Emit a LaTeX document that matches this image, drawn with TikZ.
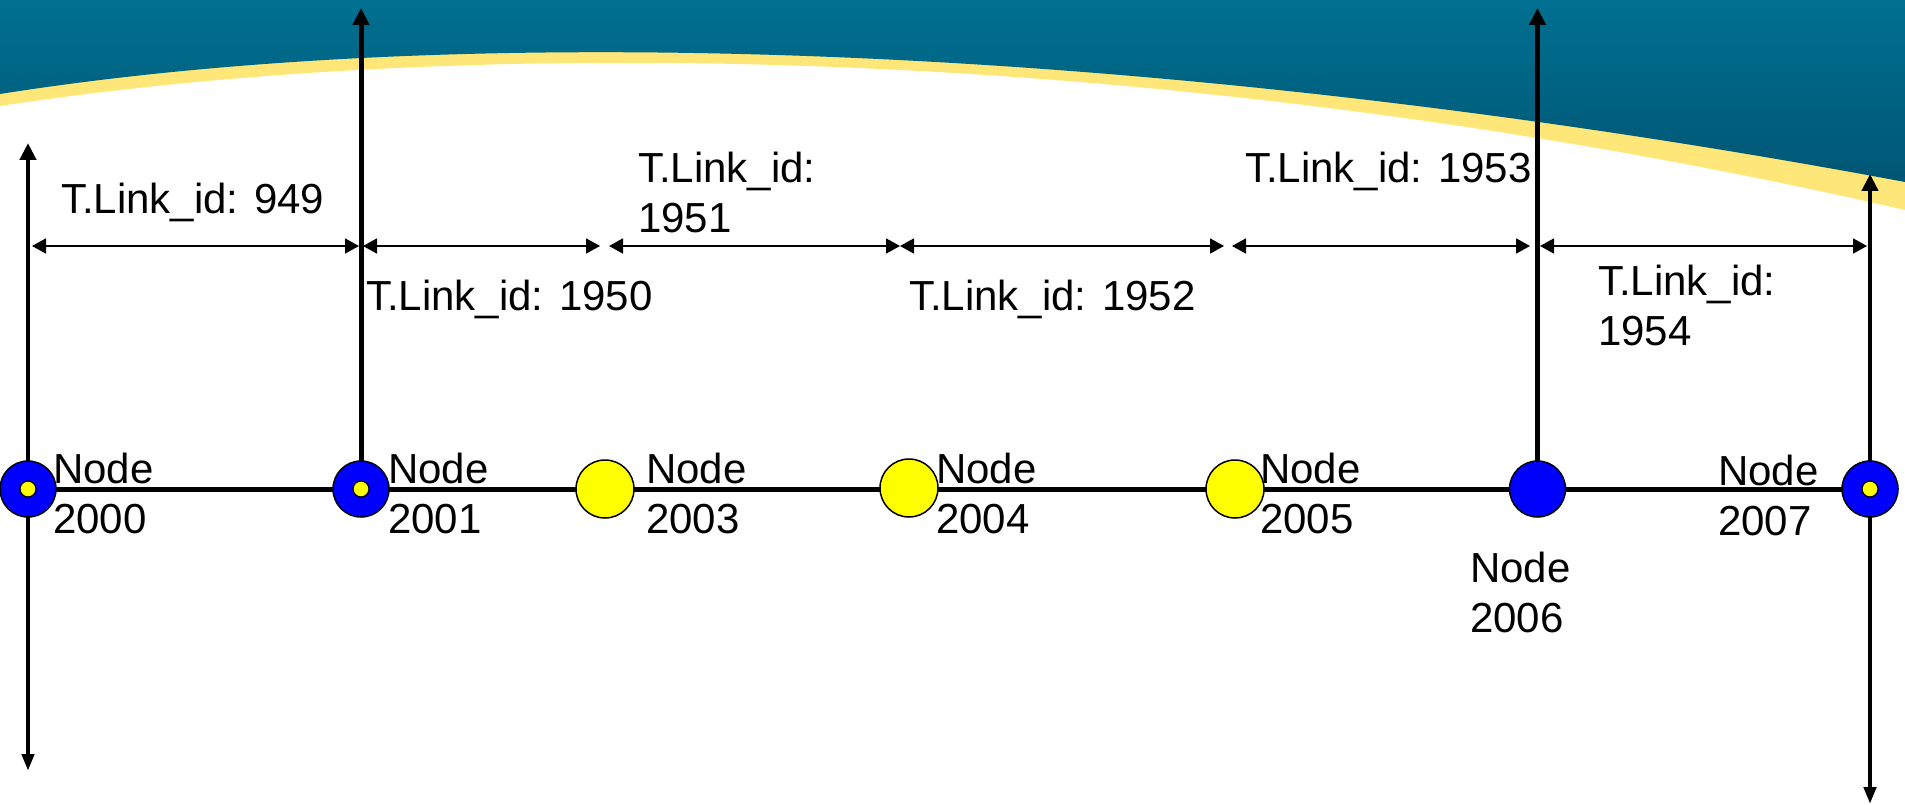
\documentclass[tikz,border=0pt]{standalone}
\usepackage{fontspec}
\setmainfont{Liberation Sans}
\usetikzlibrary{arrows.meta,backgrounds}

\definecolor{tealtop}{RGB}{0,112,145}
\definecolor{tealbot}{RGB}{0,86,116}
\definecolor{bandyellow}{RGB}{255,230,120}
\definecolor{hubblue}{RGB}{0,0,255}
\definecolor{stopyellow}{RGB}{255,255,0}

\tikzset{
  lbl/.style={anchor=north west, inner sep=0pt, align=left,
              font=\fontsize{42}{50}\selectfont},
  hub/.style={circle, draw=black, line width=1.5pt, fill=hubblue,
              minimum size=56pt, inner sep=0pt},
  core/.style={circle, draw=black, line width=1.2pt, fill=stopyellow,
               minimum size=16pt, inner sep=0pt},
  yellowstop/.style={circle, draw=black, line width=1.5pt, fill=stopyellow,
                     minimum size=58pt, inner sep=0pt},
  trackline/.style={line width=5pt},
  uptip/.style={line width=5pt, -{Triangle[length=17pt,width=16pt]}},
  bothtip/.style={line width=4.5pt,
                  {Triangle[length=17pt,width=12pt]}-{Triangle[length=17pt,width=16pt]}},
  spanarrow/.style={line width=1.8pt,
                    {Triangle[length=14pt,width=15pt]}-{Triangle[length=14pt,width=15pt]}},
}

\begin{document}
\begin{tikzpicture}[x=1pt,y=-1pt]
\useasboundingbox (0,0) rectangle (1905,805);

% network nodes along the track
\node[hub] (n2000) at (28,489) {};
\node[core] at (n2000) {};
\node[hub] (n2001) at (361,489) {};
\node[core] at (n2001) {};
\node[yellowstop] (n2003) at (605,489) {};
\node[yellowstop] (n2004) at (909,488) {};
\node[yellowstop] (n2005) at (1235,489) {};
\node[hub] (n2006) at (1537.5,489) {};
\node[hub] (n2007) at (1870,489) {};
\node[core] at (n2007) {};

% free ends of the vertical arrows
\coordinate (top2000) at (28,143);
\coordinate (bot2000) at (28,771);
\coordinate (top2001) at (361,8);
\coordinate (top2006) at (1537.5,8);
\coordinate (top2007) at (1870,174);
\coordinate (bot2007) at (1870,804);

% ends of the link span arrows
\coordinate (a0) at (32,246);   \coordinate (a1) at (359,246);
\coordinate (b0) at (363,246);  \coordinate (b1) at (600,246);
\coordinate (c0) at (609,246);  \coordinate (c1) at (900,246);
\coordinate (d0) at (900,246);  \coordinate (d1) at (1224,246);
\coordinate (e0) at (1232,246); \coordinate (e1) at (1530,246);
\coordinate (f0) at (1540,246); \coordinate (f1) at (1867,246);

\begin{scope}[on background layer]
  % header banner: yellow band under the teal sweep
  \fill[bandyellow] (0,0) -- (0,106)
    .. controls (500,30) and (1200,48) .. (1905,210)
    -- (1905,0) -- cycle;
  \shade[top color=tealtop, bottom color=tealbot] (0,0) -- (0,94)
    .. controls (500,15) and (1200,50) .. (1905,182)
    -- (1905,0) -- cycle;

  % track and vertical links
  \draw[trackline] (n2000.center) -- (n2007.center);
  \draw[bothtip] (bot2000) -- (top2000);
  \draw[bothtip] (bot2007) -- (top2007);
  \draw[uptip] (n2001.center) -- (top2001);
  \draw[uptip] (n2006.center) -- (top2006);
\end{scope}

% link spans
\draw[spanarrow] (a0) -- (a1);
\draw[spanarrow] (b0) -- (b1);
\draw[spanarrow] (c0) -- (c1);
\draw[spanarrow] (d0) -- (d1);
\draw[spanarrow] (e0) -- (e1);
\draw[spanarrow] (f0) -- (f1);

% link labels
\node[lbl] (t949)  at (61,182.5)   {T.Link\_id: 949};
\node[lbl] (t1950) at (366,279.5)  {T.Link\_id: 1950};
\node[lbl] (t1951) at (638,151.5)  {T.Link\_id:\\1951};
\node[lbl] (t1952) at (909,279.5)  {T.Link\_id: 1952};
\node[lbl] (t1953) at (1245,151.5) {T.Link\_id: 1953};
\node[lbl] (t1954) at (1598,264.5) {T.Link\_id:\\1954};

% node labels
\node[lbl] (l2000) at (53,452.5)   {Node\\2000};
\node[lbl] (l2001) at (388,452.5)  {Node\\2001};
\node[lbl] (l2003) at (646,452.5)  {Node\\2003};
\node[lbl] (l2004) at (936,452.5)  {Node\\2004};
\node[lbl] (l2005) at (1260,452.5) {Node\\2005};
\node[lbl] (l2006) at (1470,551.5) {Node\\2006};
\node[lbl] (l2007) at (1718,454.5) {Node\\2007};
\end{tikzpicture}
\end{document}
